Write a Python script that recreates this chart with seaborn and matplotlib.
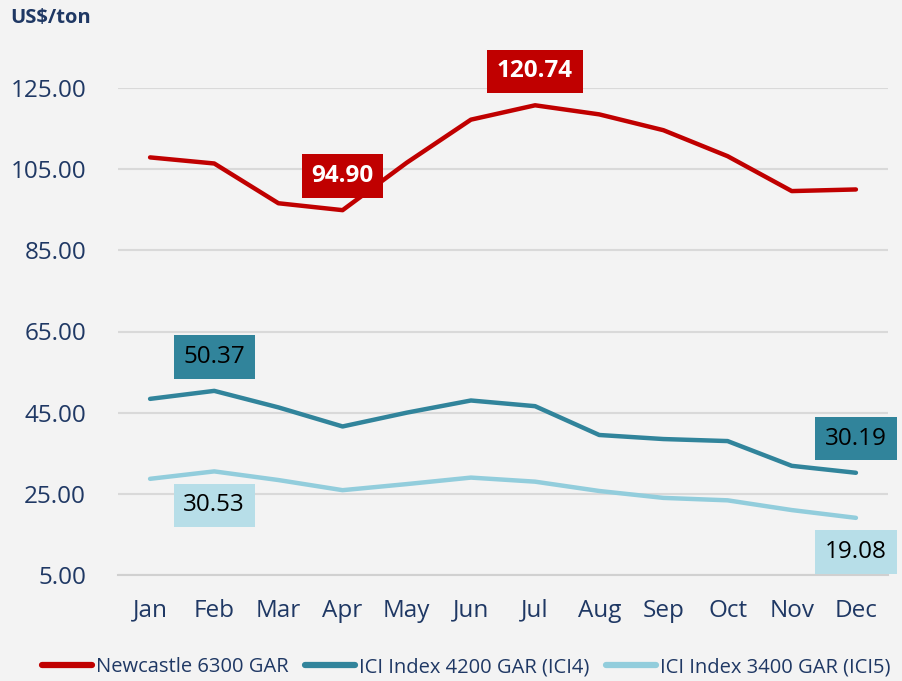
"""
Coal price indices by month, recreated with seaborn.
"""
import pandas as pd
import seaborn as sns
import matplotlib.pyplot as plt

months = ['Jan', 'Feb', 'Mar', 'Apr', 'May', 'Jun',
          'Jul', 'Aug', 'Sep', 'Oct', 'Nov', 'Dec']
newcastle = [107.9, 106.4, 96.6, 94.90, 106.6, 117.2,
             120.74, 118.5, 114.6, 108.2, 99.6, 100.0]
ici4 = [48.4, 50.37, 46.3, 41.6, 45.0, 48.0,
        46.6, 39.5, 38.5, 38.0, 31.9, 30.19]
ici5 = [28.7, 30.53, 28.4, 25.9, 27.4, 29.0,
        28.0, 25.7, 24.0, 23.4, 21.0, 19.08]
series_names = ['Newcastle 6300 GAR', 'ICI Index 4200 GAR (ICI4)', 'ICI Index 3400 GAR (ICI5)']
y_ticks = [5, 25, 45, 65, 85, 105, 125]

# labelled points: (series, month index, value, above?)
callouts = [
    (0, 3, 94.90, True),
    (0, 6, 120.74, True),
    (1, 1, 50.37, True),
    (1, 11, 30.19, True),
    (2, 1, 30.53, False),
    (2, 11, 19.08, False),
]


def vis():
    sns.set_style('white')
    plt.rcParams['font.family'] = ['Open Sans', 'DejaVu Sans']
    navy = '#1F3864'
    bg = '#F3F3F3'
    line_colors = ['#C00000', '#31849B', '#92CDDC']
    box_colors = ['#C00000', '#31849B', '#B7DEE8']
    text_colors = ['white', 'black', 'black']

    df = pd.DataFrame({'month': list(range(12)) * 3,
                       'value': newcastle + ici4 + ici5,
                       'series': [s for s in series_names for _ in range(12)]})

    fig = plt.figure(figsize=(9.03, 6.81), dpi=100, facecolor=bg)
    ax = fig.add_axes([118 / 903, 106 / 681, 770 / 903, 487 / 681])
    ax.set_facecolor(bg)

    sns.lineplot(data=df, x='month', y='value', hue='series', hue_order=series_names,
                 palette=line_colors, linewidth=3.2, sort=False, legend=False, ax=ax)
    for line in ax.lines:
        line.set_solid_capstyle('round')
        line.set_solid_joinstyle('round')

    ax.set_xlim(-0.5, 11.5)
    ax.set_ylim(5, 125)
    ax.set_yticks(y_ticks)
    ax.set_yticklabels([f'{v:.2f}' for v in y_ticks], color=navy, fontsize=17.5)
    ax.set_xticks(range(12))
    ax.set_xticklabels(months, color=navy, fontsize=17.5)
    ax.set_xticks([i - 0.5 for i in range(13)], minor=True)
    ax.tick_params(axis='x', which='major', length=0, pad=17)
    ax.tick_params(axis='x', which='minor', length=8, width=1.5, color='#D0D0D0')
    ax.tick_params(axis='y', length=0, pad=23)
    ax.grid(axis='y', color='#D9D9D9', linewidth=1.5)
    ax.set_axisbelow(True)
    for side in ['top', 'right', 'left']:
        ax.spines[side].set_visible(False)
    ax.spines['bottom'].set_color('#D0D0D0')
    ax.spines['bottom'].set_linewidth(1.5)
    ax.set_xlabel('')
    ax.set_ylabel('')

    for s, m, v, above in callouts:
        ax.annotate(f'{v:.2f}', xy=(m, v), xytext=(0, 24.5 if above else -24.5),
                    textcoords='offset points', ha='center', va='center',
                    fontsize=17.5, color=text_colors[s],
                    fontweight='bold' if s == 0 else 'normal',
                    bbox=dict(boxstyle='square,pad=0.4', fc=box_colors[s], ec='none'))

    fig.text(10 / 903, 1 - 18 / 681, 'US$/ton', color=navy, fontsize=14.5,
             fontweight='bold', va='center', ha='left')

    handles = [plt.Line2D([], [], color=c, linewidth=4.5, solid_capstyle='round')
               for c in line_colors]
    fig.legend(handles, series_names, loc='center', bbox_to_anchor=(466 / 903, 1 - 667 / 681),
               ncol=3, frameon=False, fontsize=14.5, labelcolor=navy,
               handlelength=2.5, handletextpad=0.2, columnspacing=0.8, borderpad=0.2)

    fig.savefig('out.png', dpi=100, facecolor=bg)


if __name__ == "__main__":
    vis()
